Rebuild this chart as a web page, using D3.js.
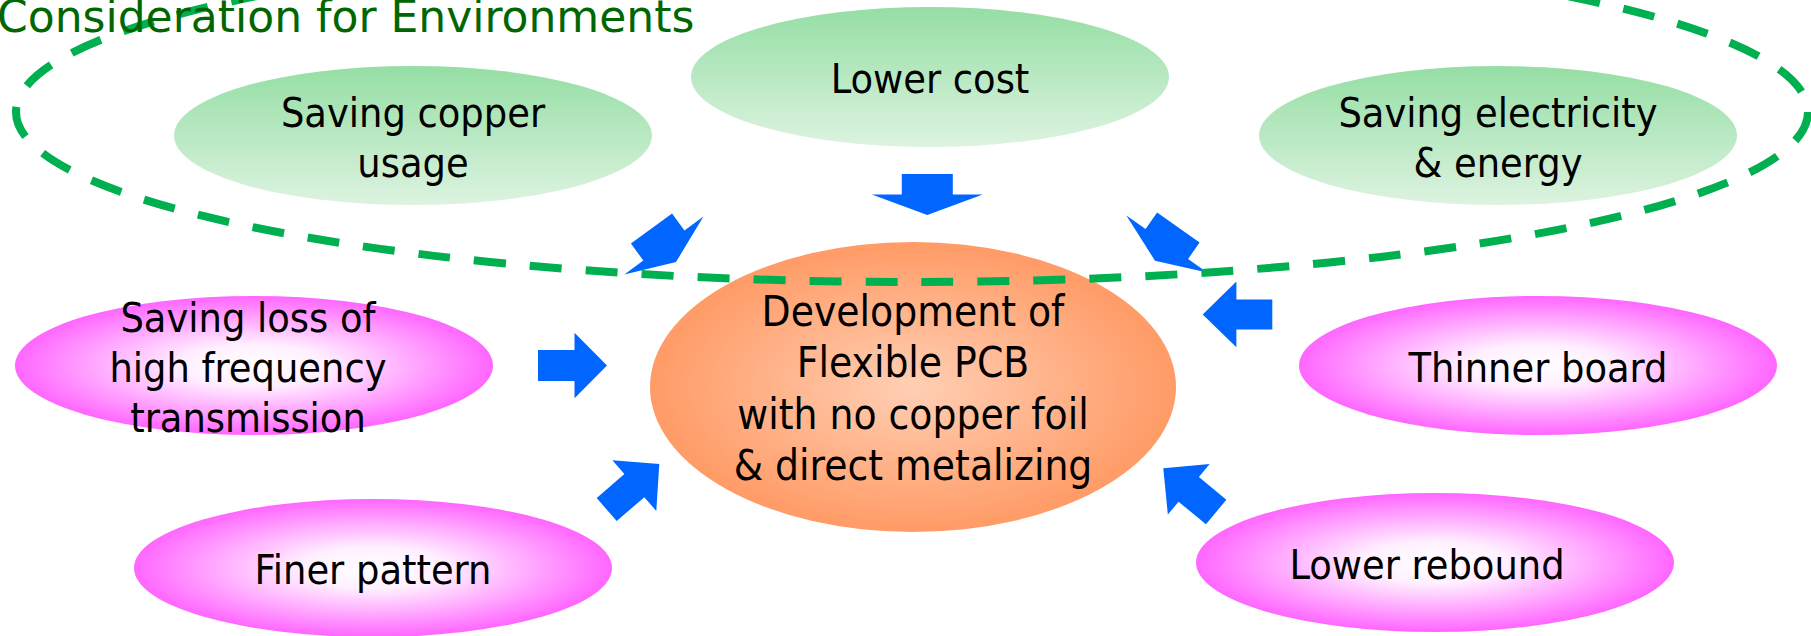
<!DOCTYPE html>
<html>
<head>
<meta charset="utf-8">
<script src="https://cdn.jsdelivr.net/npm/d3@7"></script>
<style>
  html, body { margin: 0; padding: 0; background: #fff; overflow: hidden; }
  text { font-family: "DejaVu Sans Condensed", "Liberation Sans", sans-serif; }
</style>
</head>
<body>
<svg id="chart" width="1811" height="636"></svg>
<script>
// diagram content
const title = "Consideration for Environments";
const nodeNames = ["copper", "cost", "energy", "loss", "thin", "finer", "rebound", "core"];
const nodeLines = [
    ["Saving copper", "usage"],
    ["Lower cost"],
    ["Saving electricity", "& energy"],
    ["Saving loss of", "high frequency", "transmission"],
    ["Thinner board"],
    ["Finer pattern"],
    ["Lower rebound"],
    ["Development of", "Flexible PCB", "with no copper foil", "& direct metalizing"]
];
const nodeGroups = ["env", "env", "env", "tech", "tech", "tech", "tech", "core"];
// every outer box points at the core
const arrowSources = ["cost", "copper", "energy", "loss", "thin", "finer", "rebound"];

// layout (pixels), kept apart from the content above
const nodeBox = {
    copper:  { cx: 413,  cy: 135.5, rx: 239, ry: 69.5, dx: 0 },
    cost:    { cx: 930,  cy: 77,    rx: 239, ry: 70,   dx: 0 },
    energy:  { cx: 1498, cy: 135.5, rx: 239, ry: 69.5, dx: 0 },
    loss:    { cx: 254,  cy: 365.5, rx: 239, ry: 69.5, dx: -6 },
    thin:    { cx: 1538, cy: 365.5, rx: 239, ry: 69.5, dx: 0 },
    finer:   { cx: 373,  cy: 568,   rx: 239, ry: 69,   dx: 0 },
    rebound: { cx: 1435, cy: 562.5, rx: 239, ry: 69.5, dx: -8 },
    core:    { cx: 913,  cy: 387,   rx: 263, ry: 145,  dx: 0 }
};
// tip position, pointing angle, total length, head length, shaft width, head width
const arrowBox = {
    cost:    { x: 927.3,  y: 215,   a: 90,     len: 41,   head: 20.5, sw: 51, hw: 111 },
    copper:  { x: 676,    y: 262,   a: 53.8,   len: 41.5, head: 20.5, sw: 51, hw: 98 },
    energy:  { x: 1155,   y: 260.7, a: 125.2,  len: 40.5, head: 20.5, sw: 52, hw: 99 },
    loss:    { x: 607,    y: 365.5, a: 0,      len: 69,   head: 32.5, sw: 31, hw: 65.6 },
    thin:    { x: 1202.7, y: 314.4, a: 180,    len: 69.6, head: 33.7, sw: 30, hw: 65.6 },
    finer:   { x: 659.3,  y: 464,   a: -40.9,  len: 69.6, head: 33,   sw: 30.5, hw: 67 },
    rebound: { x: 1163.3, y: 468.3, a: -140.4, len: 68.6, head: 33,   sw: 32, hw: 65.5 }
};
const envRing = { cx: 912, cy: 112, rx: 896, ry: 170 };

var svg = d3.select("#chart");
var defs = svg.append("defs");

// gradients
var envGrad = defs.append("linearGradient").attr("id", "g-env")
    .attr("x1", 0).attr("y1", 0).attr("x2", 0).attr("y2", 1);
envGrad.append("stop").attr("offset", "0%").attr("stop-color", "#95dea4");
envGrad.append("stop").attr("offset", "100%").attr("stop-color", "#ddf3e0");

var techGrad = defs.append("radialGradient").attr("id", "g-tech")
    .attr("cx", "50%").attr("cy", "50%").attr("r", "50%");
techGrad.append("stop").attr("offset", "0%").attr("stop-color", "#ffffff");
techGrad.append("stop").attr("offset", "30%").attr("stop-color", "#fff0ff");
techGrad.append("stop").attr("offset", "100%").attr("stop-color", "#ff66ff");

var coreGrad = defs.append("radialGradient").attr("id", "g-core")
    .attr("cx", "50%").attr("cy", "50%").attr("r", "50%");
coreGrad.append("stop").attr("offset", "0%").attr("stop-color", "#ffcfb4");
coreGrad.append("stop").attr("offset", "100%").attr("stop-color", "#ff9b66");

var fillScale = d3.scaleOrdinal()
    .domain(["env", "tech", "core"])
    .range(["url(#g-env)", "url(#g-tech)", "url(#g-core)"]);

var nodes = nodeNames.map(function (n, i) {
    return { name: n, lines: nodeLines[i], group: nodeGroups[i], box: nodeBox[n] };
});

// ellipses
svg.append("g").selectAll("ellipse")
    .data(nodes)
    .enter()
    .append("ellipse")
    .attr("cx", function (d) { return d.box.cx; })
    .attr("cy", function (d) { return d.box.cy; })
    .attr("rx", function (d) { return d.box.rx; })
    .attr("ry", function (d) { return d.box.ry; })
    .attr("fill", function (d) { return fillScale(d.group); });

// block arrows
var arrowLine = d3.line();
function arrowPoints(b) {
    var s = b.sw / 2, h = b.hw / 2;
    return [[-b.len, -s], [-b.head, -s], [-b.head, -h], [0, 0], [-b.head, h], [-b.head, s], [-b.len, s]];
}
svg.append("g").selectAll("path")
    .data(arrowSources)
    .enter()
    .append("path")
    .attr("transform", function (d) { var b = arrowBox[d]; return "translate(" + b.x + "," + b.y + ")rotate(" + b.a + ")"; })
    .attr("d", function (d) { return arrowLine(arrowPoints(arrowBox[d])) + "Z"; })
    .attr("fill", "#0066ff");

// dashed ring round the environment topics
svg.append("ellipse")
    .attr("cx", envRing.cx).attr("cy", envRing.cy)
    .attr("rx", envRing.rx).attr("ry", envRing.ry)
    .attr("fill", "none")
    .attr("stroke", "#00b050")
    .attr("stroke-width", 8)
    .attr("stroke-dasharray", "32 24");

// labels
var labels = svg.append("g").selectAll("text")
    .data(nodes)
    .enter()
    .append("text")
    .attr("text-anchor", "middle")
    .attr("font-size", function (d) { return d.group === "core" ? 42 : 41; })
    .attr("fill", "#000");
labels.selectAll("tspan")
    .data(function (d) {
        var lh = d.group === "core" ? 51.5 : 50;
        return d.lines.map(function (t, i) {
            return { t: t, x: d.box.cx + d.box.dx, y: d.box.cy + 16 + (i - (d.lines.length - 1) / 2) * lh };
        });
    })
    .enter()
    .append("tspan")
    .attr("x", function (d) { return d.x; })
    .attr("y", function (d) { return d.y; })
    .text(function (d) { return d.t; });

// title
svg.append("text")
    .attr("x", -3)
    .attr("y", 32)
    .attr("font-size", 44)
    .style("font-family", "'DejaVu Sans', Verdana, sans-serif")
    .attr("fill", "#006600")
    .text(title);
</script>
</body>
</html>
